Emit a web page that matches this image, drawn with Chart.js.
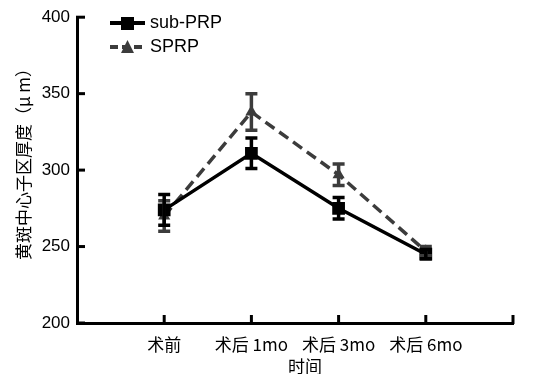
<!DOCTYPE html>
<html>
<head>
<meta charset="utf-8">
<script src="https://cdn.jsdelivr.net/npm/chart.js@4"></script>
<style>
  html, body { margin: 0; padding: 0; background: #fff; }
  #wrap { width: 547px; height: 374px; position: relative; }
</style>
</head>
<body>
<div id="wrap"><canvas id="chart"></canvas></div>
<script>
// data
const categories = ["术前", "术后 1mo", "术后 3mo", "术后 6mo"];
const subPrpMean = [274, 311, 275, 245];
const subPrpErr = [10, 10, 7, 3];
const sprpMean = [270, 338, 297, 247];
const sprpErr = [10, 12, 7, 3];
const yTicks = [200, 250, 300, 350, 400];

const latin = "'Liberation Sans', Arial, sans-serif";
const cjk = "'Noto Sans CJK SC', 'Liberation Sans', sans-serif";

function toPoints(arr) {
  return arr.map(function (v, i) { return { x: i + 1, y: v }; });
}

// draws error bars, inward ticks, legend and axis titles
const extras = {
  id: "extras",
  afterDatasetsDraw: function (chart) {
    var ctx = chart.ctx;
    var xs = chart.scales.x, ys = chart.scales.y;
    var sets = [
      { mean: sprpMean, err: sprpErr, color: "#3c3c3c" },
      { mean: subPrpMean, err: subPrpErr, color: "#000" }
    ];
    ctx.save();
    sets.forEach(function (s) {
      ctx.strokeStyle = s.color;
      ctx.lineWidth = 3.5;
      s.mean.forEach(function (m, i) {
        var x = xs.getPixelForValue(i + 1);
        var top = ys.getPixelForValue(m + s.err[i]);
        var bot = ys.getPixelForValue(m - s.err[i]);
        ctx.beginPath();
        ctx.moveTo(x, top); ctx.lineTo(x, bot);
        ctx.moveTo(x - 6, top); ctx.lineTo(x + 6, top);
        ctx.moveTo(x - 6, bot); ctx.lineTo(x + 6, bot);
        ctx.stroke();
      });
    });
    ctx.restore();
  },
  afterDraw: function (chart) {
    var ctx = chart.ctx;
    var xs = chart.scales.x, ys = chart.scales.y;
    var area = chart.chartArea;
    ctx.save();
    ctx.strokeStyle = "#000";
    ctx.lineWidth = 3;
    // inward ticks
    yTicks.forEach(function (t) {
      var y = ys.getPixelForValue(t);
      ctx.beginPath();
      ctx.moveTo(area.left - 1, y); ctx.lineTo(area.left + 8, y);
      ctx.stroke();
    });
    for (var i = 1; i <= 5; i++) {
      var x = xs.getPixelForValue(i);
      ctx.beginPath();
      ctx.moveTo(x, area.bottom + 1); ctx.lineTo(x, area.bottom - 8);
      ctx.stroke();
    }

    // legend
    var lx = 110;
    var rows = [
      { y: 23, label: "sub-PRP", color: "#000", dash: [], style: "rect" },
      { y: 47, label: "SPRP", color: "#3c3c3c", dash: [8, 4], style: "triangle" }
    ];
    rows.forEach(function (r) {
      ctx.strokeStyle = r.color;
      ctx.fillStyle = r.color;
      ctx.lineWidth = 4;
      ctx.setLineDash(r.dash);
      ctx.beginPath();
      ctx.moveTo(lx, r.y); ctx.lineTo(lx + 35, r.y);
      ctx.stroke();
      ctx.setLineDash([]);
      if (r.style === "rect") {
        ctx.fillRect(lx + 11, r.y - 6, 13, 13);
      } else {
        ctx.beginPath();
        ctx.moveTo(lx + 17.5, r.y - 7);
        ctx.lineTo(lx + 24, r.y + 6);
        ctx.lineTo(lx + 11, r.y + 6);
        ctx.closePath();
        ctx.fill();
      }
      ctx.fillStyle = "#000";
      ctx.font = "18px " + latin;
      ctx.textBaseline = "middle";
      ctx.textAlign = "left";
      ctx.fillText(r.label, lx + 40, r.y);
    });

    // axis titles
    ctx.fillStyle = "#000";
    ctx.font = "17px " + cjk;
    ctx.textAlign = "center";
    ctx.textBaseline = "middle";
    ctx.fillText("时间", 305, 367);
    ctx.translate(24, 160);
    ctx.rotate(-Math.PI / 2);
    ctx.fillText("黄斑中心子区厚度（μ m）", 0, 0);
    ctx.restore();
  }
};

new Chart(document.getElementById("chart"), {
  type: "line",
  data: {
    datasets: [
      {
        label: "sub-PRP",
        data: toPoints(subPrpMean),
        borderColor: "#000",
        backgroundColor: "#000",
        borderWidth: 3.5,
        pointStyle: "rect",
        pointRadius: 9,
        pointBorderWidth: 0,
        tension: 0
      },
      {
        label: "SPRP",
        data: toPoints(sprpMean),
        borderColor: "#3c3c3c",
        backgroundColor: "#3c3c3c",
        borderWidth: 3.5,
        borderDash: [11, 6],
        pointStyle: "triangle",
        pointRadius: 7,
        pointBorderWidth: 0,
        tension: 0
      }
    ]
  },
  options: {
    responsive: true,
    maintainAspectRatio: false,
    animation: false,
    layout: { padding: { top: 17, right: 34, left: 0, bottom: 0 } },
    plugins: { legend: { display: false }, tooltip: { enabled: false } },
    scales: {
      x: {
        type: "linear",
        min: 0,
        max: 5,
        afterFit: function (s) { s.height = 51; },
        afterBuildTicks: function (s) {
          s.ticks = [1, 2, 3, 4].map(function (v) { return { value: v }; });
        },
        grid: { display: false, drawTicks: false },
        border: { display: true, color: "#000", width: 3 },
        ticks: {
          color: "#000",
          padding: 11,
          font: { size: 17, family: cjk },
          callback: function (v) { return categories[v - 1]; }
        }
      },
      y: {
        min: 200,
        max: 400,
        afterFit: function (s) { s.width = 77; },
        afterBuildTicks: function (s) {
          s.ticks = yTicks.map(function (v) { return { value: v }; });
        },
        grid: { display: false, drawTicks: false },
        border: { display: true, color: "#000", width: 3 },
        ticks: {
          color: "#000",
          padding: 7,
          font: { size: 17, family: latin }
        }
      }
    }
  },
  plugins: [extras]
});
</script>
</body>
</html>
